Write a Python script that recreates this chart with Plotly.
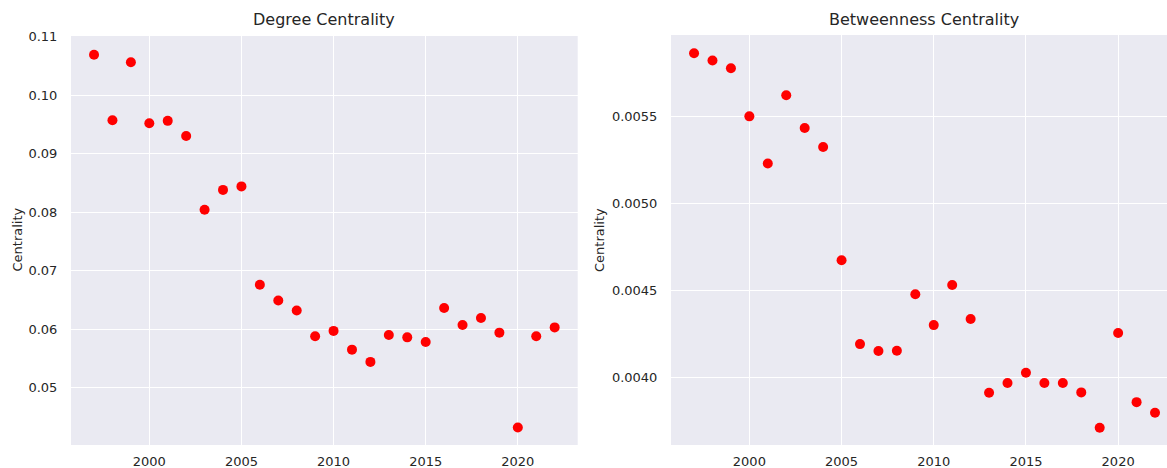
import plotly.graph_objects as go
from plotly.subplots import make_subplots

years = list(range(1997, 2023))

degree_centrality = [
    0.1069, 0.0957, 0.1056, 0.0952, 0.0956, 0.0930, 0.0804, 0.0838, 0.0844,
    0.0676, 0.0649, 0.0632, 0.0588, 0.0597, 0.0565, 0.0544, 0.0590, 0.0586,
    0.0578, 0.0636, 0.0607, 0.0619, 0.0594, 0.0432, 0.0588, 0.0603,
]

betweenness_centrality = [
    0.005862, 0.005821, 0.005776, 0.005500, 0.005230, 0.005621, 0.005433,
    0.005324, 0.004674, 0.004193, 0.004153, 0.004155, 0.004479, 0.004302,
    0.004532, 0.004337, 0.003914, 0.003970, 0.004029, 0.003970, 0.003970,
    0.003916, 0.003713, 0.004257, 0.003860, 0.003799,
]

panel_titles = ["Degree Centrality", "Betweenness Centrality"]
y_title = "Centrality"

W, H = 1167, 468
FONT = "DejaVu Sans"
TEXT = "#262626"
BG = "#EAEAF2"

fig = make_subplots(rows=1, cols=2)

for col, vals in ((1, degree_centrality), (2, betweenness_centrality)):
    fig.add_trace(
        go.Scatter(
            x=years, y=vals, mode="markers",
            marker=dict(color="red", size=10, line=dict(width=0)),
            showlegend=False,
        ),
        row=1, col=col,
    )

common_axis = dict(
    showgrid=True, gridcolor="white", gridwidth=1.2,
    zeroline=False, showline=False, automargin=False,
    ticks="outside", tickcolor="rgba(0,0,0,0)",
    tickfont=dict(family=FONT, size=13, color=TEXT),
)

def px_x(p):
    return p / W

def px_y(p):
    return 1 - p / H

fig.update_layout(
    width=W, height=H,
    margin=dict(l=0, r=0, t=0, b=0),
    paper_bgcolor="white",
    plot_bgcolor=BG,
    xaxis=dict(domain=[px_x(71), px_x(577.7)], range=[1995.75, 2023.25],
               tickvals=[2000, 2005, 2010, 2015, 2020], ticklen=4, **common_axis),
    yaxis=dict(domain=[px_y(445), px_y(36)], range=[0.0402, 0.1101],
               tickvals=[0.05, 0.06, 0.07, 0.08, 0.09, 0.10, 0.11],
               tickformat=".2f", ticklen=10, **common_axis),
    xaxis2=dict(domain=[px_x(671), 1.0], range=[1995.75, 2022.65],
                tickvals=[2000, 2005, 2010, 2015, 2020], ticklen=4, **common_axis),
    yaxis2=dict(domain=[px_y(445), px_y(35)], range=[0.003614, 0.005967],
                tickvals=[0.0040, 0.0045, 0.0050, 0.0055],
                tickformat=".4f", ticklen=10, **common_axis),
)

annotations = [
    dict(text=panel_titles[0], x=px_x(324.3), y=px_y(20), xref="paper", yref="paper",
         showarrow=False, font=dict(family=FONT, size=16, color=TEXT),
         xanchor="center", yanchor="middle"),
    dict(text=panel_titles[1], x=px_x(924), y=px_y(20), xref="paper", yref="paper",
         showarrow=False, font=dict(family=FONT, size=16, color=TEXT),
         xanchor="center", yanchor="middle"),
    dict(text=y_title, x=px_x(17.5), y=px_y(240), xref="paper", yref="paper",
         showarrow=False, textangle=-90, font=dict(family=FONT, size=13, color=TEXT),
         xanchor="center", yanchor="middle"),
    dict(text=y_title, x=px_x(600), y=px_y(240), xref="paper", yref="paper",
         showarrow=False, textangle=-90, font=dict(family=FONT, size=13, color=TEXT),
         xanchor="center", yanchor="middle"),
]
fig.update_layout(annotations=annotations)

fig.write_html("out.html")
